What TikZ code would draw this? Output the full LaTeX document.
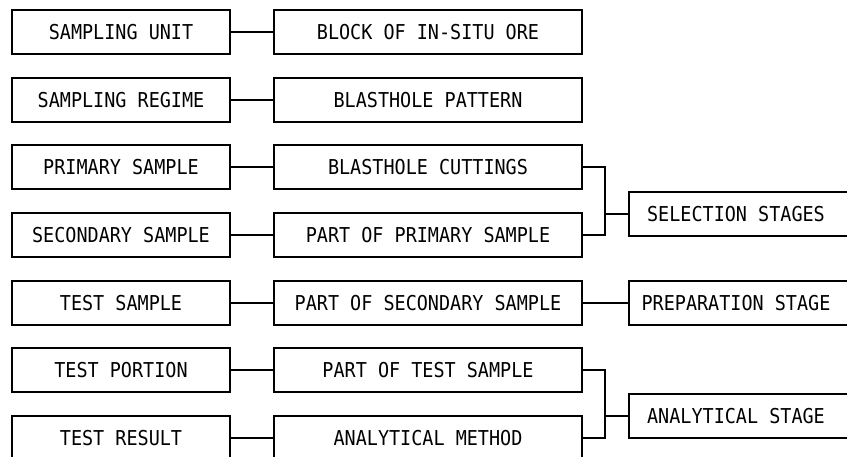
\documentclass[tikz,border=0pt]{standalone}
\usepackage{fontspec}
\newfontfamily\lgfont{DejaVu Sans Mono}[FakeStretch=0.9]
\begin{document}
\begin{tikzpicture}[x=1pt,y=-1pt,
  lbox/.style={draw,line width=1.8pt,minimum width=218pt,minimum height=44pt,inner sep=0pt,
    font=\lgfont\fontsize{20.5}{24}\selectfont},
  mbox/.style={draw,line width=1.8pt,minimum width=308pt,minimum height=44pt,inner sep=0pt,
    font=\lgfont\fontsize{20.5}{24}\selectfont},
  rbox/.style={draw,line width=1.8pt,minimum width=260pt,minimum height=44pt,inner sep=0pt,anchor=west},
  rlabel/.style={inner sep=0pt,font=\lgfont\fontsize{20.5}{24}\selectfont},
  conn/.style={line width=1.8pt}]
\useasboundingbox (0,0) rectangle (847,457);
\clip (0,0) rectangle (847,457);
\fill[white] (0,0) rectangle (847,457);
% left column
\node[lbox] (l1) at (121,32) {SAMPLING UNIT};
\node[lbox] (l2) at (121,100) {SAMPLING REGIME};
\node[lbox] (l3) at (121,167) {PRIMARY SAMPLE};
\node[lbox] (l4) at (121,235) {SECONDARY SAMPLE};
\node[lbox] (l5) at (121,303) {TEST SAMPLE};
\node[lbox] (l6) at (121,370) {TEST PORTION};
\node[lbox] (l7) at (121,438) {TEST RESULT};
% middle column
\node[mbox] (m1) at (428,32) {BLOCK OF IN-SITU ORE};
\node[mbox] (m2) at (428,100) {BLASTHOLE PATTERN};
\node[mbox] (m3) at (428,167) {BLASTHOLE CUTTINGS};
\node[mbox] (m4) at (428,235) {PART OF PRIMARY SAMPLE};
\node[mbox] (m5) at (428,303) {PART OF SECONDARY SAMPLE};
\node[mbox] (m6) at (428,370) {PART OF TEST SAMPLE};
\node[mbox] (m7) at (428,438) {ANALYTICAL METHOD};
% right column
\node[rbox] (r1) at (628,214) {};
\node[rlabel] (r1t) at (736,214) {SELECTION STAGES};
\node[rbox] (r2) at (628,303) {};
\node[rlabel] (r2t) at (736,303) {PREPARATION STAGE};
\node[rbox] (r3) at (628,416) {};
\node[rlabel] (r3t) at (736,416) {ANALYTICAL STAGE};
% connectors left-middle
\foreach \i in {1,...,7} {\draw[conn] (l\i.east) -- (m\i.west);}
% brackets
\coordinate (j1) at (605,214);
\coordinate (j3) at (605,416);
\draw[conn] (m3.east) -| (j1) |- (m4.east);
\draw[conn] (j1) -- (r1.west);
\draw[conn] (m5.east) -- (r2.west);
\draw[conn] (m6.east) -| (j3) |- (m7.east);
\draw[conn] (j3) -- (r3.west);
\end{tikzpicture}
\end{document}
